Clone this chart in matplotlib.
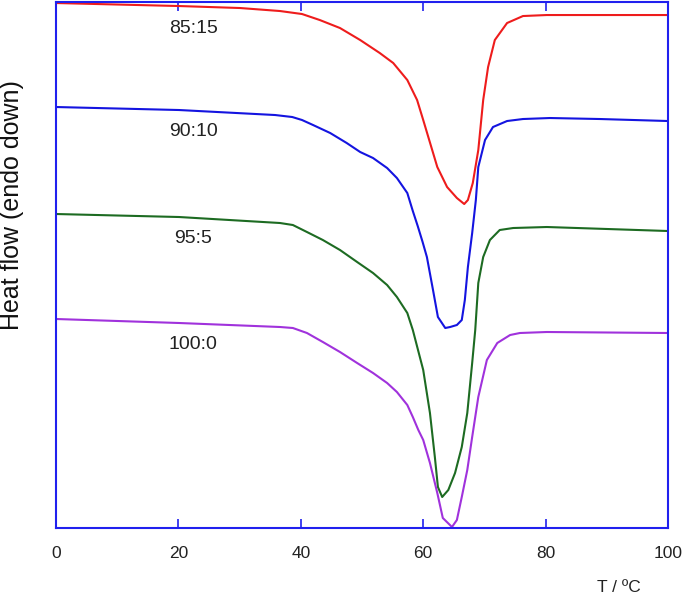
import matplotlib.pyplot as plt

# DSC traces, heat flow in arbitrary units (endo down)
t_85 = [0, 20.1, 30.1, 36.6, 40.2, 43.1, 46.4, 49.7, 52.9, 55.1, 57.4, 59.0, 60.0,
        62.3, 63.9, 65.5, 66.7, 67.3, 68.1, 69.0, 69.8, 70.6, 71.7, 73.7, 76.3, 80.2, 100]
hf_85 = [525, 522, 520, 517, 514, 508, 500, 488, 475, 465, 448, 428, 408,
         361, 341, 330, 324, 328, 345, 378, 428, 461, 488, 505, 512, 513, 513]

t_90 = [0, 20.1, 35.8, 38.6, 40.2, 42.0, 44.8, 47.5, 49.7, 51.8, 54.1, 55.7, 57.4,
        58.3, 59.1, 59.9, 60.6, 61.6, 62.4, 63.6, 64.4, 65.5, 66.3, 66.8, 67.3, 68.0,
        68.6, 69.0, 70.1, 71.4, 73.7, 76.3, 80.7, 88.9, 100]
hf_90 = [421, 418, 413, 411, 408, 403, 395, 385, 376, 370, 360, 350, 335,
         317, 302, 286, 271, 238, 211, 200, 201, 203, 208, 228, 261, 295,
         328, 361, 388, 401, 407, 409, 410, 409, 407]

t_95 = [0, 20.1, 36.6, 38.7, 41.0, 43.6, 46.4, 49.2, 51.8, 54.1, 55.7, 57.4, 58.3,
        60.0, 61.1, 61.9, 62.4, 63.1, 64.1, 65.2, 66.3, 67.2, 68.0, 68.5, 69.0, 69.8,
        70.9, 72.5, 74.7, 80.2, 100]
hf_95 = [314, 311, 305, 303, 296, 288, 278, 266, 255, 243, 231, 215, 198,
         158, 115, 71, 41, 31, 38, 55, 81, 115, 165, 198, 245, 271,
         288, 298, 300, 301, 297]

t_100 = [0, 20.1, 36.6, 38.7, 41.0, 43.6, 46.4, 49.2, 51.8, 54.1, 55.7, 57.4, 58.3,
         59.2, 60.0, 61.1, 62.3, 63.2, 64.7, 65.5, 66.3, 67.2, 68.0, 69.0, 70.4, 72.1,
         74.2, 75.8, 80.2, 100]
hf_100 = [209, 205, 201, 200, 195, 186, 176, 165, 155, 145, 136, 123, 111,
          98, 88, 65, 35, 10, 1, 8, 31, 58, 91, 131, 168, 185,
          193, 195, 196, 195]

labels = ["85:15", "90:10", "95:5", "100:0"]
label_y = [500, 397, 290, 184]
colors = ["#ee1c1c", "#1414e0", "#1d6b22", "#a032dc"]

plt.rcParams['font.family'] = ['Liberation Sans', 'DejaVu Sans']

fig = plt.figure(figsize=(6.85, 5.97), dpi=100)
ax = fig.add_axes([0.0818, 0.1156, 0.8934, 0.881])

series = [(t_85, hf_85), (t_90, hf_90), (t_95, hf_95), (t_100, hf_100)]
for (t, hf), c in zip(series, colors):
    ax.plot(t, hf, color=c, lw=1.5, solid_joinstyle="round")

for lab, y in zip(labels, label_y):
    ax.text(22.4, y, lab, ha="center", va="center", fontsize=14, color="#222222")

ax.set_xlim(0, 100)
ax.set_ylim(0, 526)
ax.set_xticks([0, 20, 40, 60, 80, 100])
ax.set_yticks([])
ax.tick_params(axis="x", direction="in", top=True, length=6.5, width=1.2,
               color="#2020ee", pad=13, labelsize=12.5, labelcolor="#222222")

for s in ax.spines.values():
    s.set_color("#2020ee")
    s.set_linewidth(1.5)

ax.text(0.92, -0.114, "T / ºC", transform=ax.transAxes, ha="center", va="center",
        fontsize=12.5, color="#222222")
ax.text(-0.072, 0.614, "Heat flow (endo down)", transform=ax.transAxes,
        ha="center", va="center", rotation=90, fontsize=18, color="#111111")

plt.savefig("out.png")
